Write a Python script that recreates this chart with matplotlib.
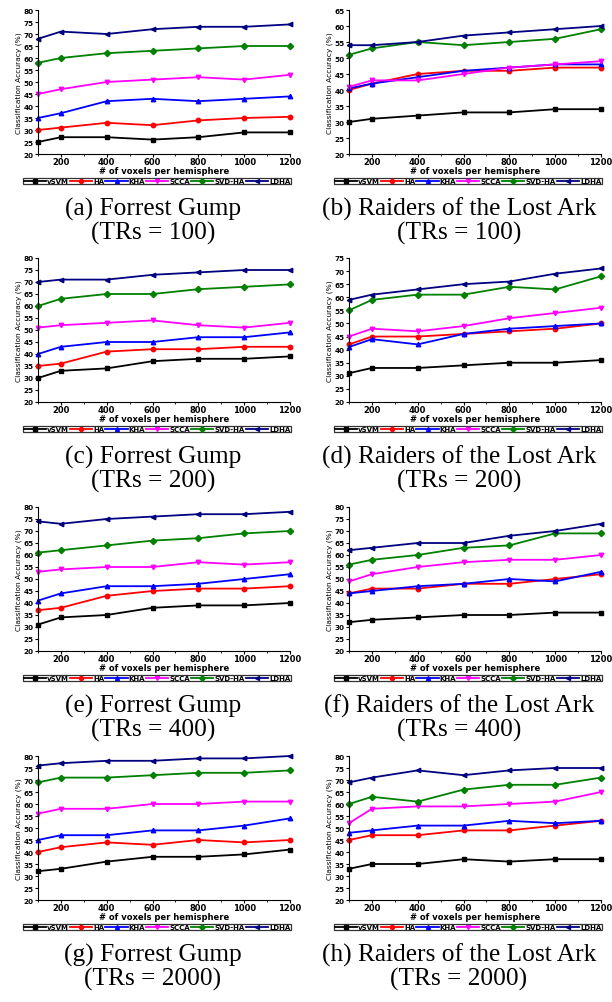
import matplotlib
matplotlib.use("Agg")
import matplotlib.pyplot as plt
from matplotlib.ticker import MultipleLocator

# x values (# of voxels per hemisphere)
voxels = [100, 200, 400, 600, 800, 1000, 1200]
methods = ["vSVM", "HA", "KHA", "SCCA", "SVD-HA", "LDHA"]

# (a) Forrest Gump, TRs = 100
fg100 = [
    [25, 27, 27, 26, 27, 29, 29],
    [30, 31, 33, 32, 34, 35, 35.5],
    [35, 37, 42, 43, 42, 43, 44],
    [45, 47, 50, 51, 52, 51, 53],
    [58, 60, 62, 63, 64, 65, 65],
    [68, 71, 70, 72, 73, 73, 74],
]
# (b) Raiders of the Lost Ark, TRs = 100
rla100 = [
    [30, 31, 32, 33, 33, 34, 34],
    [40, 42, 45, 46, 46, 47, 47],
    [40.5, 42, 44, 46, 47, 48, 48],
    [41, 43, 43, 45, 47, 48, 49],
    [51, 53, 55, 54, 55, 56, 59],
    [54, 54, 55, 57, 58, 59, 60],
]
# (c) Forrest Gump, TRs = 200
fg200 = [
    [30, 33, 34, 37, 38, 38, 39],
    [35, 36, 41, 42, 42, 43, 43],
    [40, 43, 45, 45, 47, 47, 49],
    [51, 52, 53, 54, 52, 51, 53],
    [60, 63, 65, 65, 67, 68, 69],
    [70, 71, 71, 73, 74, 75, 75],
]
# (d) Raiders of the Lost Ark, TRs = 200
rla200 = [
    [31, 33, 33, 34, 35, 35, 36],
    [42, 45, 45, 46, 47, 48, 50],
    [41, 44, 42, 46, 48, 49, 50],
    [45, 48, 47, 49, 52, 54, 56],
    [55, 59, 61, 61, 64, 63, 68],
    [59, 61, 63, 65, 66, 69, 71],
]
# (e) Forrest Gump, TRs = 400
fg400 = [
    [31, 34, 35, 38, 39, 39, 40],
    [37, 38, 43, 45, 46, 46, 47],
    [41, 44, 47, 47, 48, 50, 52],
    [53, 54, 55, 55, 57, 56, 57],
    [61, 62, 64, 66, 67, 69, 70],
    [74, 73, 75, 76, 77, 77, 78],
]
# (f) Raiders of the Lost Ark, TRs = 400
rla400 = [
    [32, 33, 34, 35, 35, 36, 36],
    [44, 46, 46, 48, 48, 50, 52],
    [44, 45, 47, 48, 50, 49, 53],
    [49, 52, 55, 57, 58, 58, 60],
    [56, 58, 60, 63, 64, 69, 69],
    [62, 63, 65, 65, 68, 70, 73],
]
# (g) Forrest Gump, TRs = 2000
fg2000 = [
    [32, 33, 36, 38, 38, 39, 41],
    [40, 42, 44, 43, 45, 44, 45],
    [45, 47, 47, 49, 49, 51, 54],
    [56, 58, 58, 60, 60, 61, 61],
    [69, 71, 71, 72, 73, 73, 74],
    [76, 77, 78, 78, 79, 79, 80],
]
# (h) Raiders of the Lost Ark, TRs = 2000
rla2000 = [
    [33, 35, 35, 37, 36, 37, 37],
    [45, 47, 47, 49, 49, 51, 53],
    [48, 49, 51, 51, 53, 52, 53],
    [52, 58, 59, 59, 60, 61, 65],
    [60, 63, 61, 66, 68, 68, 71],
    [69, 71, 74, 72, 74, 75, 75],
]

panels = [fg100, rla100, fg200, rla200, fg400, rla400, fg2000, rla2000]
captions = [
    ("(a) Forrest Gump", "(TRs = 100)"),
    ("(b) Raiders of the Lost Ark", "(TRs = 100)"),
    ("(c) Forrest Gump", "(TRs = 200)"),
    ("(d) Raiders of the Lost Ark", "(TRs = 200)"),
    ("(e) Forrest Gump", "(TRs = 400)"),
    ("(f) Raiders of the Lost Ark", "(TRs = 400)"),
    ("(g) Forrest Gump", "(TRs = 2000)"),
    ("(h) Raiders of the Lost Ark", "(TRs = 2000)"),
]
ymax = [80, 65, 80, 75, 80, 80, 80, 80]

colors = ["black", "red", "blue", "magenta", "#008000", "#000080"]
markers = ["s", "o", "^", "v", "D", "<"]

W, H = 612, 1003
fig = plt.figure(figsize=(W / 100, H / 100), dpi=100)
plt.rcParams["font.family"] = ["DejaVu Sans"]

row_top = [11, 259, 508, 757]
col_left = [38, 349]
col_right = [290, 601]
ax_h = 144

for i, data in enumerate(panels):
    r, c = i // 2, i % 2
    left = col_left[c]
    width = col_right[c] - left
    top = row_top[r]
    bottom = top + ax_h
    ax = fig.add_axes([left / W, 1 - bottom / H, width / W, ax_h / H])
    for k, m in enumerate(methods):
        ax.plot(voxels, data[k], color=colors[k], marker=markers[k],
                markersize=3.2, linewidth=1.3, label=m, clip_on=False)
    ax.set_xlim(100, 1200)
    ax.set_ylim(20, ymax[i])
    ax.set_xticks([200, 400, 600, 800, 1000, 1200])
    ax.xaxis.set_minor_locator(MultipleLocator(100))
    ax.yaxis.set_major_locator(MultipleLocator(5))
    ax.spines["top"].set_visible(False)
    ax.spines["right"].set_visible(False)
    ax.tick_params(axis="both", which="major", direction="out", length=2.2,
                   width=0.8, pad=1)
    ax.tick_params(axis="x", which="major", pad=0.3)
    ax.tick_params(axis="both", which="minor", direction="out", length=1.4,
                   width=0.6)
    for lab in ax.get_yticklabels():
        lab.set_fontsize(5.2)
        lab.set_fontweight("bold")
    for lab in ax.get_xticklabels():
        lab.set_fontsize(6)
        lab.set_fontweight("bold")
    ax.set_xlabel("# of voxels per hemisphere", fontsize=6,
                  fontweight="bold", labelpad=0)
    ax.set_ylabel("Classification Accuracy (%)", fontsize=5.4, labelpad=1)

    leg = ax.legend(loc="center", ncol=6, fontsize=5.0,
                    bbox_to_anchor=(((left - 17) + (col_right[c] + 3)) / 2 / W,
                                    1 - (bottom + 27) / H),
                    bbox_transform=fig.transFigure,
                    frameon=True, fancybox=False, handlelength=3.2,
                    handletextpad=0.15, columnspacing=0.15, borderpad=0.05,
                    borderaxespad=0, markerscale=0.9)
    leg.get_frame().set_edgecolor("black")
    leg.get_frame().set_linewidth(0.9)
    for t in leg.get_texts():
        t.set_fontweight("bold")

    mid = (c * 306 + 153) / W
    fig.text(mid, 1 - (bottom + 54) / H, captions[i][0], ha="center",
             va="center", fontsize=18.3, family="Liberation Serif")
    fig.text(mid, 1 - (bottom + 78) / H, captions[i][1], ha="center",
             va="center", fontsize=18.3, family="Liberation Serif")

fig.savefig("out.png", dpi=100)
